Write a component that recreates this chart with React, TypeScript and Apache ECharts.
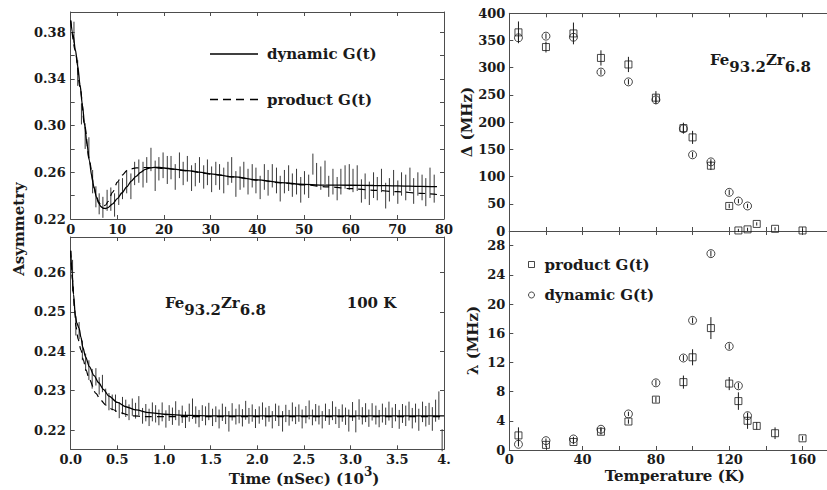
import React, { useEffect, useRef } from "react";
import * as echarts from "echarts";

const FONT = "DejaVu Serif, Liberation Serif, serif";
const INK = "#1a1a1a";
const FRAME = "#4d4d4d";
const BAR = "#383838";

// ---------- Upper-left panel: asymmetry vs time (nSec), early window ----------
const tlDynamicCurve: [number, number][] = [
  [0, 0.39], [0.5, 0.378], [1, 0.365], [1.5, 0.351], [2, 0.335], [2.5, 0.318], [3, 0.3],
  [3.5, 0.284], [4, 0.27], [4.5, 0.257], [5, 0.247], [5.5, 0.239], [6, 0.2335], [6.5, 0.2305],
  [7, 0.2292], [7.5, 0.229], [8, 0.2298], [9, 0.233], [10, 0.2375], [11, 0.2425], [12, 0.2475],
  [13, 0.2525], [14, 0.2565], [15, 0.26], [16, 0.2625], [17, 0.2638], [18, 0.2642], [19, 0.2641],
  [20, 0.2637], [22, 0.2628], [25, 0.2615], [28, 0.26], [30, 0.2587], [35, 0.256], [40, 0.2535],
  [45, 0.2512], [50, 0.2496], [55, 0.249], [60, 0.2489], [65, 0.2487], [70, 0.2484], [75, 0.248],
  [78.5, 0.2478],
];
const tlProductCurve: [number, number][] = [
  [0, 0.39], [1, 0.364], [2, 0.333], [3, 0.3], [4, 0.27], [5, 0.247], [5.5, 0.2395], [6, 0.2345],
  [6.5, 0.2318], [7, 0.231], [7.5, 0.232], [8, 0.235], [9, 0.243], [10, 0.2515], [11, 0.2575],
  [12, 0.2612], [13, 0.263], [14, 0.2638], [16, 0.2641], [18, 0.2639], [20, 0.2634], [25, 0.2612],
  [30, 0.2585], [35, 0.256], [40, 0.2533], [45, 0.251], [50, 0.2492], [55, 0.2476], [60, 0.246],
  [65, 0.2446], [70, 0.2434], [75, 0.242], [78.5, 0.241],
];
// [time, centre, half error]
const tlBars: [number, number, number][] = [
  [0.7, 0.38, 0.009], [1.5, 0.345, 0.011], [2.3, 0.31, 0.009], [3.1, 0.291, 0.011], [3.9, 0.281, 0.009],
  [4.7, 0.252, 0.01], [5.4, 0.239, 0.009], [6.1, 0.233, 0.009], [6.9, 0.23, 0.009], [7.8, 0.236, 0.009],
  [8.6, 0.237, 0.01], [9.4, 0.232, 0.01], [10.3, 0.242, 0.01], [11.1, 0.246, 0.009], [12.0, 0.252, 0.01],
  [12.9, 0.248, 0.011], [13.7, 0.259, 0.01], [14.6, 0.261, 0.01], [15.5, 0.258, 0.011], [16.3, 0.262, 0.011],
  [17.2, 0.271, 0.01], [18.1, 0.257, 0.013], [18.9, 0.263, 0.01], [19.8, 0.266, 0.011], [20.7, 0.262, 0.012],
  [21.5, 0.264, 0.01], [22.4, 0.256, 0.011], [23.3, 0.266, 0.011], [24.1, 0.259, 0.01], [25.0, 0.263, 0.011],
  [25.9, 0.255, 0.011], [26.7, 0.258, 0.01], [27.6, 0.262, 0.011], [28.5, 0.256, 0.01], [29.3, 0.26, 0.011],
  [30.2, 0.254, 0.011], [31.1, 0.259, 0.01], [31.9, 0.256, 0.011], [32.8, 0.253, 0.011], [33.7, 0.259, 0.01],
  [34.5, 0.262, 0.011], [35.4, 0.25, 0.011], [36.3, 0.255, 0.01], [37.1, 0.258, 0.011], [38.0, 0.252, 0.011],
  [38.9, 0.257, 0.01], [39.7, 0.253, 0.011], [40.6, 0.247, 0.01], [41.5, 0.256, 0.011], [42.3, 0.251, 0.011],
  [43.2, 0.257, 0.01], [44.1, 0.253, 0.011], [44.9, 0.246, 0.011], [45.8, 0.252, 0.01], [46.7, 0.255, 0.011],
  [47.5, 0.249, 0.01], [48.4, 0.252, 0.011], [49.3, 0.245, 0.011], [50.1, 0.251, 0.01], [51.0, 0.248, 0.01],
  [51.9, 0.267, 0.009], [52.7, 0.258, 0.01], [53.6, 0.255, 0.01], [54.5, 0.26, 0.01], [55.3, 0.248, 0.009],
  [56.2, 0.252, 0.011], [57.1, 0.246, 0.01], [57.9, 0.252, 0.011], [58.8, 0.256, 0.01], [59.7, 0.256, 0.011],
  [60.5, 0.253, 0.01], [61.4, 0.255, 0.011], [62.3, 0.244, 0.01], [63.1, 0.248, 0.011], [64.0, 0.242, 0.01],
  [64.9, 0.249, 0.011], [65.7, 0.246, 0.01], [66.6, 0.253, 0.01], [67.5, 0.24, 0.011], [68.3, 0.245, 0.01],
  [69.2, 0.251, 0.011], [70.1, 0.243, 0.01], [70.9, 0.25, 0.01], [71.8, 0.247, 0.011], [72.7, 0.254, 0.01],
  [73.5, 0.244, 0.011], [74.4, 0.25, 0.01], [75.3, 0.247, 0.011], [76.1, 0.243, 0.012], [77.0, 0.251, 0.013],
  [77.9, 0.246, 0.012],
];

// ---------- Lower-left panel: asymmetry vs time (10^3 nSec), 100 K ----------
const blDynamicCurve: [number, number][] = [
  [0, 0.2655], [0.015, 0.2598], [0.03, 0.2545], [0.05, 0.249], [0.065, 0.2472], [0.09, 0.2458],
  [0.11, 0.2435], [0.13, 0.241], [0.16, 0.2385], [0.2, 0.2361], [0.25, 0.2338], [0.3, 0.232],
  [0.35, 0.2303], [0.41, 0.2286], [0.5, 0.227], [0.59, 0.2259], [0.7, 0.2251], [0.84, 0.2244],
  [1.0, 0.224], [1.25, 0.2237], [1.5, 0.2236], [2.0, 0.2236], [2.5, 0.2236], [3.0, 0.2236],
  [3.5, 0.2236], [4.0, 0.2236],
];
const blProductCurve: [number, number][] = [
  [0, 0.2655], [0.02, 0.258], [0.04, 0.251], [0.057, 0.2462], [0.08, 0.243], [0.11, 0.2403],
  [0.135, 0.2378], [0.164, 0.2352], [0.2, 0.2328], [0.27, 0.2293], [0.32, 0.2276], [0.378, 0.2263],
  [0.45, 0.2252], [0.52, 0.2244], [0.66, 0.2236], [0.8, 0.2234], [1.0, 0.2234], [1.5, 0.2234],
  [2.0, 0.2234], [3.0, 0.2234], [4.0, 0.2234],
];
const blBars: [number, number, number][] = [
  [0.02, 0.2592, 0.004], [0.055, 0.2465, 0.0025], [0.09, 0.2452, 0.0022], [0.125, 0.2402, 0.0025],
  [0.16, 0.2372, 0.0022], [0.195, 0.2352, 0.0025], [0.23, 0.233, 0.0025], [0.27, 0.2335, 0.0022],
  [0.305, 0.2312, 0.0022], [0.34, 0.2318, 0.0022], [0.375, 0.2285, 0.002], [0.41, 0.2272, 0.0022],
  [0.445, 0.227, 0.002], [0.48, 0.2268, 0.0022], [0.52, 0.225, 0.002], [0.555, 0.2262, 0.0022],
  [0.59, 0.2255, 0.0022], [0.625, 0.2245, 0.002], [0.66, 0.2258, 0.0022], [0.695, 0.2249, 0.002],
  [0.73, 0.2262, 0.0024], [0.77, 0.2236, 0.002], [0.805, 0.2244, 0.0022], [0.84, 0.2232, 0.0022],
  [0.875, 0.2246, 0.0024], [0.91, 0.2241, 0.0022], [0.945, 0.2232, 0.002], [0.98, 0.2246, 0.0024],
  [1.02, 0.2228, 0.0022], [1.055, 0.2243, 0.002], [1.09, 0.2235, 0.0022], [1.125, 0.2249, 0.0024],
  [1.16, 0.2231, 0.002], [1.195, 0.224, 0.0022], [1.23, 0.2226, 0.0021], [1.27, 0.2244, 0.0023],
  [1.305, 0.2254, 0.0026], [1.34, 0.2238, 0.0022], [1.375, 0.2229, 0.0022], [1.41, 0.2243, 0.002],
  [1.445, 0.2236, 0.0024], [1.48, 0.2247, 0.0022], [1.52, 0.2232, 0.0022], [1.555, 0.224, 0.002],
  [1.59, 0.2228, 0.0024], [1.625, 0.2245, 0.0022], [1.66, 0.2237, 0.0022], [1.695, 0.2222, 0.0026],
  [1.73, 0.2246, 0.0022], [1.77, 0.2234, 0.002], [1.805, 0.2241, 0.0024], [1.84, 0.2231, 0.0022],
  [1.875, 0.225, 0.0024], [1.91, 0.2236, 0.002], [1.945, 0.2243, 0.0022], [1.98, 0.2229, 0.0024],
  [2.02, 0.2238, 0.0022], [2.055, 0.2248, 0.0022], [2.09, 0.2233, 0.0024], [2.125, 0.2241, 0.002],
  [2.16, 0.2226, 0.0022], [2.195, 0.2245, 0.0022], [2.23, 0.2236, 0.0026], [2.27, 0.2222, 0.0026],
  [2.305, 0.2242, 0.0022], [2.34, 0.2231, 0.002], [2.375, 0.2246, 0.0024], [2.41, 0.2237, 0.0022],
  [2.445, 0.2243, 0.0022], [2.48, 0.2228, 0.0024], [2.52, 0.2239, 0.0022], [2.555, 0.2251, 0.0024],
  [2.59, 0.2232, 0.002], [2.625, 0.2244, 0.0022], [2.66, 0.2238, 0.0024], [2.695, 0.2226, 0.0022],
  [2.73, 0.2245, 0.0022], [2.77, 0.2233, 0.002], [2.805, 0.2249, 0.0024], [2.84, 0.2237, 0.0022],
  [2.875, 0.2229, 0.0024], [2.91, 0.2243, 0.0022], [2.945, 0.2235, 0.0022], [2.98, 0.2224, 0.0028],
  [3.02, 0.2247, 0.0024], [3.055, 0.2222, 0.0028], [3.09, 0.2252, 0.0026], [3.125, 0.2236, 0.0022],
  [3.16, 0.2244, 0.0024], [3.195, 0.223, 0.0022], [3.23, 0.2246, 0.0022], [3.27, 0.2238, 0.0024],
  [3.305, 0.2229, 0.0022], [3.34, 0.2243, 0.0024], [3.375, 0.2235, 0.0022], [3.41, 0.2248, 0.0024],
  [3.445, 0.2231, 0.0026], [3.48, 0.2244, 0.0022], [3.52, 0.2227, 0.0024], [3.555, 0.2242, 0.0024],
  [3.59, 0.2236, 0.0026], [3.625, 0.2248, 0.0024], [3.66, 0.223, 0.0026], [3.695, 0.2243, 0.0024],
  [3.73, 0.2226, 0.0028], [3.77, 0.2246, 0.0026], [3.805, 0.2235, 0.0026], [3.84, 0.2241, 0.0028],
  [3.875, 0.2228, 0.003], [3.91, 0.2249, 0.0028], [3.945, 0.2262, 0.0036], [3.98, 0.2174, 0.0028],
];
const blYTicks = [0.22, 0.23, 0.24, 0.25, 0.26];

// ---------- Right panels: fit parameters vs temperature ----------
const tempsProduct = [5, 20, 35, 50, 65, 80, 95, 100, 110, 120, 125, 130, 135, 145, 160];
const tempsDynamic = [5, 20, 35, 50, 65, 80, 95, 100, 110, 120, 125, 130];
const deltaProduct = [365, 338, 363, 318, 306, 245, 189, 172, 120, 46, 1, 3, 13, 4, 1];
const deltaProductErr = [20, 10, 20, 14, 14, 12, 10, 12, 8, 4, 3, 3, 3, 3, 3];
const deltaDynamic = [355, 358, 356, 292, 274, 241, 188, 140, 127, 71, 55, 46];
const deltaDynamicErr = [5, 5, 5, 5, 5, 5, 5, 5, 5, 5, 4, 4];
const lambdaProduct = [2.0, 0.7, 1.1, 2.5, 3.9, 6.9, 9.3, 12.7, 16.7, 9.1, 6.7, 4.0, 3.3, 2.3, 1.6];
const lambdaProductErr = [1.1, 0.3, 0.3, 0.4, 0.3, 0.4, 0.9, 1.1, 1.5, 0.9, 1.2, 1.1, 0.5, 0.8, 0.3];
const lambdaDynamic = [0.78, 1.28, 1.51, 2.84, 4.94, 9.2, 12.6, 17.75, 26.9, 14.2, 8.8, 4.7];
const lambdaDynamicErr = [0.3, 0.3, 0.3, 0.3, 0.3, 0.4, 0.4, 0.4, 0.4, 0.4, 0.4, 0.4];

const labelStyle = { color: INK, fontFamily: FONT, fontWeight: "bold" as const, fontSize: 13 };
const titleStyle = { color: INK, fontFamily: FONT, fontWeight: "bold" as const, fontSize: 15 };

function axis(o: any) {
  const ax: any = {
    type: "value",
    gridIndex: o.grid,
    position: o.position,
    min: o.min,
    max: o.max,
    axisLine: { show: true, onZero: false, lineStyle: { color: FRAME, width: 1 } },
    axisTick: { show: true, inside: true, length: 4, lineStyle: { color: FRAME, width: 1 } },
    splitLine: { show: false },
    axisPointer: { show: false },
    axisLabel: {
      show: !!o.labels,
      ...labelStyle,
      margin: o.margin ?? 4,
      formatter: o.formatter,
      showMinLabel: true,
      showMaxLabel: true,
    },
  };
  if (o.interval != null) ax.interval = o.interval;
  if (o.tickValues) ax.axisTick.customValues = o.tickValues;
  if (o.labelValues) ax.axisLabel.customValues = o.labelValues;
  if (o.name) {
    ax.name = o.name;
    ax.nameLocation = "middle";
    ax.nameGap = o.nameGap;
    if (o.nameRotate != null) ax.nameRotate = o.nameRotate;
    ax.nameTextStyle = { ...titleStyle, padding: o.namePadding ?? 0 };
  }
  return ax;
}

function errSeries(xi: number, yi: number, rows: [number, number, number][], color = BAR) {
  return {
    type: "custom",
    xAxisIndex: xi,
    yAxisIndex: yi,
    silent: true,
    z: 3,
    renderItem: (_p: any, api: any) => {
      const x = api.value(0);
      const p1 = api.coord([x, api.value(1)]);
      const p2 = api.coord([x, api.value(2)]);
      return {
        type: "line",
        shape: { x1: p1[0], y1: p1[1], x2: p2[0], y2: p2[1] },
        style: { stroke: color, lineWidth: 1 },
      };
    },
    encode: { x: 0, y: [1, 2] },
    data: rows.map(([x, c, e]) => [x, c - e, c + e]),
  };
}

const hollow = { color: "transparent", borderColor: INK, borderWidth: 1 };
const DASH_ICON = "path://M0,0H8V1.3H0Z M13,0H21V1.3H13Z M26,0H34V1.3H26Z M40,0H48V1.3H40Z";

function buildOption(): any {
  const lineBase = {
    type: "line",
    showSymbol: false,
    symbol: "none",
    smooth: 0.3,
    smoothMonotone: "x",
    silent: true,
    z: 5,
    itemStyle: { color: "#000" },
  };
  const solid = { color: "#000", width: 1.3, type: "solid" };
  const dashed = { color: "#000", width: 1.2, type: [7, 5] };

  const tlYFmt = (v: number) => (Math.round(v * 100) % 4 === 2 ? v.toFixed(2) : "");
  const brXFmt = (v: number) => (Math.round(v) % 40 === 0 && v <= 160 ? String(Math.round(v)) : "");
  const brYFmt = (v: number) => (Math.round(v) % 4 === 0 && v <= 28 ? String(Math.round(v)) : "");

  const richFormula = (subLine: number) => ({
    n: { ...titleStyle, fill: INK, lineHeight: 16, verticalAlign: "top" },
    s: { ...titleStyle, fill: INK, lineHeight: subLine },
  });

  return {
    animation: false,
    backgroundColor: "#fff",
    grid: [
      { left: 70.7, top: 12, width: 373.3, height: 207, outerBoundsMode: "none", containLabel: false },
      { left: 70.7, top: 237, width: 373.3, height: 212.3, outerBoundsMode: "none", containLabel: false },
      { left: 509.3, top: 13.3, width: 318.9, height: 217.7, outerBoundsMode: "none", containLabel: false },
      { left: 509.3, top: 231, width: 318.9, height: 219, outerBoundsMode: "none", containLabel: false },
    ],
    xAxis: [
      axis({ grid: 0, position: "bottom", min: 0, max: 80, interval: 10, labels: true, margin: 4 }),
      axis({ grid: 0, position: "top", min: 0, max: 80, interval: 10 }),
      axis({
        grid: 1, position: "bottom", min: 0, max: 4, interval: 0.5, labels: true, margin: 4,
        formatter: (v: number) => (v === 4 ? "4." : v.toFixed(1)),
      }),
      axis({ grid: 1, position: "top", min: 0, max: 4, interval: 0.5 }),
      axis({ grid: 2, position: "bottom", min: 0, max: 174, interval: 20 }),
      axis({ grid: 2, position: "top", min: 0, max: 174, interval: 20 }),
      axis({
        grid: 3, position: "bottom", min: 0, max: 174, interval: 20, labels: true, margin: 3,
        formatter: brXFmt, name: "Temperature (K)", nameGap: 18, namePadding: [0, 0, 0, 12],
      }),
      axis({ grid: 3, position: "top", min: 0, max: 174, interval: 20 }),
    ],
    yAxis: [
      axis({ grid: 0, position: "left", min: 0.22, max: 0.3973, interval: 0.02, labels: true, margin: 5, formatter: tlYFmt }),
      axis({ grid: 0, position: "right", min: 0.22, max: 0.3973, interval: 0.02 }),
      axis({
        grid: 1, position: "left", min: 0.2151, max: 0.269, labels: true, margin: 5,
        tickValues: blYTicks, labelValues: blYTicks, formatter: (v: number) => v.toFixed(2),
      }),
      axis({ grid: 1, position: "right", min: 0.2151, max: 0.269, tickValues: blYTicks }),
      axis({
        grid: 2, position: "left", min: 0, max: 400, interval: 50, labels: true, margin: 4,
        name: "Δ (MHz)", nameGap: 31, nameRotate: 90,
      }),
      axis({
        grid: 3, position: "left", min: 0, max: 30, interval: 4, labels: true, margin: 4,
        formatter: brYFmt, name: "λ (MHz)", nameGap: 29, nameRotate: 90,
      }),
    ],
    legend: [
      {
        data: [
          { name: "dynamic G(t)", icon: "rect" },
          { name: "product G(t)", icon: DASH_ICON },
        ],
        orient: "vertical",
        left: 210,
        top: 46.5,
        padding: 0,
        itemWidth: 48,
        itemHeight: 1.3,
        itemGap: 30.5,
        symbolKeepAspect: false,
        selectedMode: false,
        itemStyle: { color: "#000", borderWidth: 0 },
        textStyle: { ...titleStyle, padding: [0, 0, 0, 4] },
      },
      {
        data: [
          { name: "λ product", icon: "rect", itemStyle: hollow },
          { name: "λ dynamic", icon: "circle", itemStyle: hollow },
        ],
        formatter: (n: string) => n.replace("λ ", "") + " G(t)",
        orient: "vertical",
        left: 528,
        top: 257,
        padding: 0,
        itemWidth: 6,
        itemHeight: 6,
        itemGap: 15.5,
        selectedMode: false,
        textStyle: { ...titleStyle, padding: [0, 0, 0, 5] },
      },
    ],
    graphic: [
      {
        type: "text",
        x: 18.5,
        y: 229,
        rotation: Math.PI / 2,
        style: { text: "Asymmetry", ...titleStyle, fill: INK, align: "center", verticalAlign: "middle" },
      },
      {
        type: "text",
        x: 304,
        y: 479,
        style: {
          text: "{m|Time (nSec) (10}{p|3}{m|)}",
          fill: INK,
          align: "center",
          verticalAlign: "middle",
          rich: {
            m: { ...titleStyle, fill: INK, lineHeight: 26 },
            p: { ...titleStyle, fontSize: 12, fill: INK, lineHeight: 14, verticalAlign: "top" },
          },
        },
      },
      {
        type: "text",
        x: 165,
        y: 295.3,
        style: { text: "{n|Fe}{s|93.2}{n|Zr}{s|6.8}", fill: INK, align: "left", verticalAlign: "top", rich: richFormula(30) },
      },
      {
        type: "text",
        x: 346.7,
        y: 303.3,
        style: { text: "100 K", ...titleStyle, fill: INK, align: "left", verticalAlign: "middle" },
      },
      {
        type: "text",
        x: 710,
        y: 52.8,
        style: { text: "{n|Fe}{s|93.2}{n|Zr}{s|6.8}", fill: INK, align: "left", verticalAlign: "top", rich: richFormula(28) },
      },
    ],
    series: [
      errSeries(0, 0, tlBars),
      { ...lineBase, name: "dynamic G(t)", xAxisIndex: 0, yAxisIndex: 0, data: tlDynamicCurve, lineStyle: solid },
      { ...lineBase, name: "product G(t)", xAxisIndex: 0, yAxisIndex: 0, data: tlProductCurve, lineStyle: dashed },
      errSeries(2, 2, blBars),
      { ...lineBase, name: "dynamic G(t)", xAxisIndex: 2, yAxisIndex: 2, data: blDynamicCurve, lineStyle: solid },
      { ...lineBase, name: "product G(t)", xAxisIndex: 2, yAxisIndex: 2, data: blProductCurve, lineStyle: dashed },
      {
        name: "Δ product", type: "scatter", xAxisIndex: 4, yAxisIndex: 4, symbol: "rect", symbolSize: 7,
        clip: false, silent: true, itemStyle: hollow,
        data: tempsProduct.map((t, i) => [t, deltaProduct[i]]),
      },
      {
        name: "Δ dynamic", type: "scatter", xAxisIndex: 4, yAxisIndex: 4, symbol: "circle", symbolSize: 8,
        clip: false, silent: true, itemStyle: hollow,
        data: tempsDynamic.map((t, i) => [t, deltaDynamic[i]]),
      },
      errSeries(4, 4, tempsProduct.map((t, i) => [t, deltaProduct[i], deltaProductErr[i]] as [number, number, number]), INK),
      errSeries(4, 4, tempsDynamic.map((t, i) => [t, deltaDynamic[i], deltaDynamicErr[i]] as [number, number, number]), INK),
      {
        name: "λ product", type: "scatter", xAxisIndex: 6, yAxisIndex: 5, symbol: "rect", symbolSize: 7,
        clip: false, silent: true, itemStyle: hollow,
        data: tempsProduct.map((t, i) => [t, lambdaProduct[i]]),
      },
      {
        name: "λ dynamic", type: "scatter", xAxisIndex: 6, yAxisIndex: 5, symbol: "circle", symbolSize: 8,
        clip: false, silent: true, itemStyle: hollow,
        data: tempsDynamic.map((t, i) => [t, lambdaDynamic[i]]),
      },
      errSeries(6, 5, tempsProduct.map((t, i) => [t, lambdaProduct[i], lambdaProductErr[i]] as [number, number, number]), INK),
      errSeries(6, 5, tempsDynamic.map((t, i) => [t, lambdaDynamic[i], lambdaDynamicErr[i]] as [number, number, number]), INK),
    ],
  };
}

export default function App() {
  const ref = useRef<HTMLDivElement>(null);
  useEffect(() => {
    document.body.style.margin = "0";
    const chart = echarts.init(ref.current as HTMLDivElement, null, { renderer: "svg" });
    chart.setOption(buildOption());
    return () => chart.dispose();
  }, []);
  return <div ref={ref} style={{ width: 827, height: 490, background: "#fff" }} />;
}
